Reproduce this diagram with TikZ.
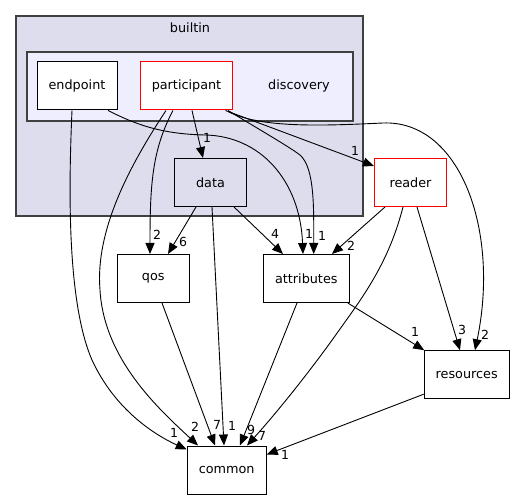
\documentclass[tikz,border=0pt]{standalone}
\usepackage{fontspec}
\setmainfont{DejaVu Sans}
\usetikzlibrary{arrows.meta}
\definecolor{clusterA}{HTML}{DDDDEE}
\definecolor{clusterB}{HTML}{EEEEFF}
\definecolor{clusterline}{HTML}{404040}
\begin{document}
\begin{tikzpicture}[x=1pt,y=-1pt,
  font=\fontsize{12.8}{15}\selectfont,
  dirbox/.style={draw=black,line width=1pt,fill=white,minimum height=48pt,inner sep=0pt},
  redbox/.style={dirbox,draw=red},
  edge/.style={draw=black,line width=0.9pt,-{Triangle[length=11pt,width=9pt]}},
  lbl/.style={inner sep=0pt,font=\fontsize{12.5}{14}\selectfont}]
\useasboundingbox (0,0) rectangle (515,500);
% clusters
\draw[fill=clusterA,draw=clusterline,line width=1.2pt] (16,16) rectangle (363,216);
\node (builtinlbl) at (190,28) {builtin};
\draw[fill=clusterB,draw=clusterline,line width=1.2pt] (27,52) rectangle (353,121);
\node (discoverylbl) at (299,86) {discovery};
% nodes
\node[dirbox,minimum width=80pt] (endpoint) at (77,86) {endpoint};
\node[redbox,minimum width=92pt] (participant) at (186.5,86) {participant};
\node[dirbox,fill=clusterA,minimum width=72pt] (data) at (210.5,182.5) {data};
\node[redbox,minimum width=72pt] (reader) at (410.5,182.5) {reader};
\node[dirbox,minimum width=72pt] (qos) at (153.3,278.5) {qos};
\node[dirbox,minimum width=86pt] (attributes) at (306.3,278.5) {attributes};
\node[dirbox,minimum width=85pt] (resources) at (466.7,374.7) {resources};
\node[dirbox,minimum width=79pt] (common) at (226.7,470) {common};
% edges
\draw[edge] ([xshift=-5pt]endpoint.south) .. controls (69,180) and (66,300) .. (92,360) .. controls (115,410) and (155,435) .. ([yshift=-4pt]common.north west);
\node[lbl] at (174,433) {1};
\draw[edge] ([xshift=31pt]endpoint.south) .. controls (135,124) and (160,134) .. (205,135) .. controls (260,136) and (300,180) .. ([xshift=-3.3pt]attributes.north);
\node[lbl] at (309,234) {1};
\draw[edge] ([xshift=5.5pt]participant.south) -- ([xshift=-7.5pt]data.north);
\node[lbl] at (207,138) {1};
\draw[edge] ([xshift=39pt]participant.south) -- ([yshift=-8pt]reader.north west);
\node[lbl] at (355,151) {1};
\draw[edge] ([xshift=41.5pt,yshift=-1pt]participant.south) .. controls (260,128) and (320,126) .. (383,123) .. controls (460,120) and (500,230) .. ([xshift=8.3pt]resources.north);
\node[lbl] at (485,335) {2};
\draw[edge] ([xshift=41.5pt]participant.south) .. controls (260,130) and (288,146) .. (300,155) .. controls (315,168) and (313.7,210) .. ([xshift=7.4pt]attributes.north);
\node[lbl] at (322,236) {1};
\draw[edge] ([xshift=-13.5pt]participant.south) .. controls (152,150) and (150,185) .. ([xshift=-3.3pt]qos.north);
\node[lbl] at (157,235) {2};
\draw[edge] ([xshift=-20.5pt]participant.south) .. controls (130,165) and (95,230) .. (100,290) .. controls (104,360) and (160,410) .. ([xshift=-28.7pt]common.north);
\node[lbl] at (195,427) {2};
\draw[edge] ([xshift=-14.5pt]data.south) -- ([xshift=14.7pt]qos.north);
\node[lbl] at (183,242) {6};
\draw[edge] ([xshift=1.5pt]data.south) -- ([xshift=-2.7pt]common.north);
\node[lbl] at (232,426) {1};
\draw[edge] ([xshift=23.5pt]data.south) -- ([xshift=-23.3pt]attributes.north);
\node[lbl] at (275,234) {4};
\draw[edge] ([xshift=-25.5pt]reader.south) -- ([xshift=25.7pt]attributes.north);
\node[lbl] at (351,246) {2};
\draw[edge] ([xshift=-7.5pt]reader.south) .. controls (388,265) and (362,298) .. (335,336) .. controls (305,378) and (272,418) .. ([xshift=20.3pt]common.north);
\node[lbl] at (262,436) {7};
\draw[edge] ([xshift=6.5pt]reader.south) -- ([xshift=-6.7pt]resources.north);
\node[lbl] at (462,330) {3};
\draw[edge] ([xshift=-2pt]attributes.south east) -- ([xshift=0.5pt]resources.north west);
\node[lbl] at (415,332) {1};
\draw[edge] ([yshift=5pt]resources.south west) -- ([yshift=-9pt]common.north east);
\node[lbl] at (285,455) {1};
\draw[edge] ([xshift=8.7pt]qos.south) -- ([xshift=-11.7pt]common.north);
\node[lbl] at (217,425) {7};
\draw[edge] ([xshift=-9.3pt]attributes.south) -- ([xshift=13.3pt]common.north);
\node[lbl] at (251,430) {9};
\end{tikzpicture}
\end{document}
